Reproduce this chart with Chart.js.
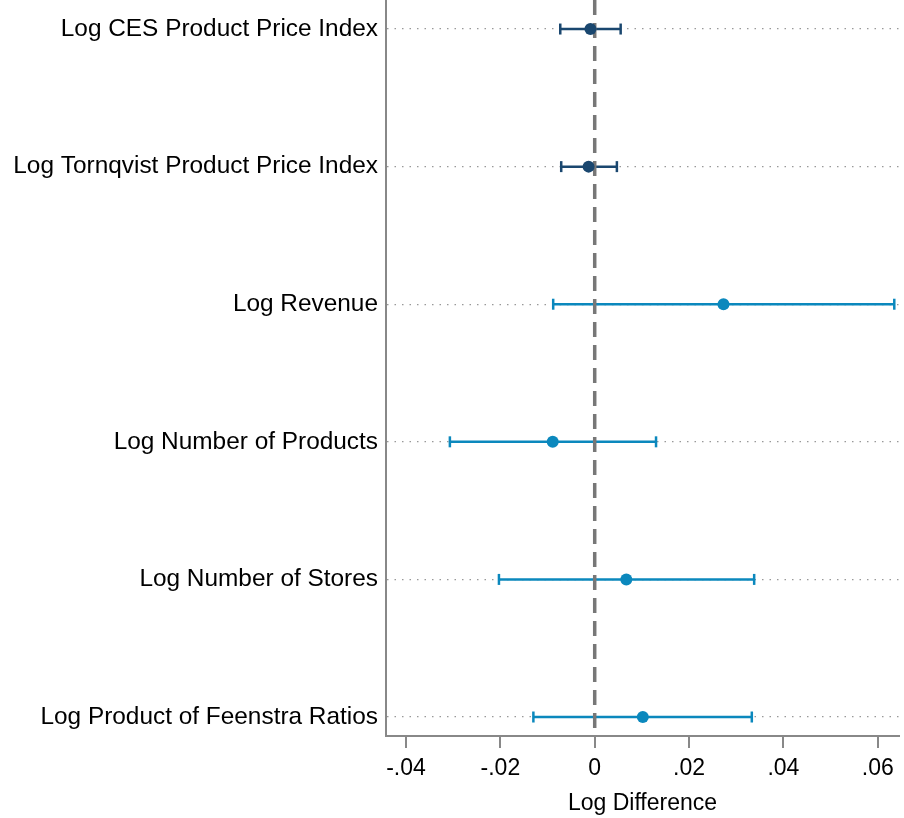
<!DOCTYPE html>
<html>
<head>
<meta charset="utf-8">
<script src="https://cdn.jsdelivr.net/npm/chart.js@4.4.1/dist/chart.umd.min.js"></script>
<style>
  html, body { margin: 0; padding: 0; background: #fff; }
</style>
</head>
<body>
<canvas id="chart" width="904" height="818"></canvas>
<script>
const outcomes = [
    'Log CES Product Price Index',
    'Log Tornqvist Product Price Index',
    'Log Revenue',
    'Log Number of Products',
    'Log Number of Stores',
    'Log Product of Feenstra Ratios'
];
const estimates = [-0.0009, -0.0013, 0.0273, -0.0089, 0.0067, 0.0102];
const lower = [-0.0073, -0.0071, -0.0088, -0.0307, -0.0203, -0.0130];
const upper = [0.0055, 0.0047, 0.0635, 0.0130, 0.0338, 0.0333];
const xTicks = [-0.04, -0.02, 0, 0.02, 0.04, 0.06];

const rows = outcomes.map((_, i) => i + 1);
const yMin = 0.789, yMax = 6.138;

const NAVY = '#1a476f';
const BLUE = '#0b88bd';
const rowColor = i => i < 2 ? NAVY : BLUE; // price indexes are dark

Chart.defaults.font.family = "'Liberation Sans', Arial, Helvetica, sans-serif";

function fmtTick(v) {
    if (Math.abs(v) < 1e-9) return '0';
    return (v < 0 ? '-' : '') + Math.abs(v).toFixed(2).replace(/^0/, '');
}

const datasets = [];

// point estimates on top
datasets.push({
    type: 'scatter',
    data: rows.map((r, i) => ({ x: estimates[i], y: r })),
    pointRadius: 6,
    pointHoverRadius: 6,
    pointBackgroundColor: rows.map((r, i) => rowColor(i)),
    pointBorderWidth: 0,
    order: 0
});

// dashed zero reference line
datasets.push({
    type: 'line',
    data: [{ x: 0, y: yMin }, { x: 0, y: yMax }],
    borderColor: '#777',
    borderWidth: 3.5,
    borderDash: [15, 8],
    pointRadius: 0,
    order: 1
});

// confidence intervals with caps
rows.forEach((r, i) => {
    datasets.push({
        type: 'line',
        data: [{ x: lower[i], y: r }, { x: upper[i], y: r }],
        borderColor: rowColor(i),
        borderWidth: 2.5,
        pointStyle: 'line',
        rotation: 90,
        pointRadius: 5.5,
        pointHoverRadius: 5.5,
        pointBorderColor: rowColor(i),
        pointBorderWidth: 2.5,
        order: 2
    });
});

new Chart(document.getElementById('chart'), {
    type: 'scatter',
    data: { datasets: datasets },
    options: {
        responsive: false,
        animation: false,
        layout: { autoPadding: false, padding: { left: 0, right: 5, top: 0, bottom: 0 } },
        plugins: {
            legend: { display: false },
            tooltip: { enabled: false }
        },
        scales: {
            x: {
                type: 'linear',
                min: -0.04424,
                max: 0.0645,
                afterBuildTicks: s => { s.ticks = xTicks.map(v => ({ value: v })); },
                afterFit: s => { s.height = 82; s.paddingLeft = 0; s.paddingRight = 0; },
                ticks: {
                    callback: v => fmtTick(v),
                    color: '#000',
                    font: { size: 23 },
                    padding: 7,
                    maxRotation: 0,
                    autoSkip: false
                },
                grid: {
                    drawOnChartArea: false,
                    color: '#888',
                    lineWidth: 2,
                    tickLength: 12
                },
                border: { color: '#888', width: 2 },
                title: {
                    display: true,
                    text: 'Log Difference',
                    color: '#000',
                    font: { size: 23 },
                    padding: { top: 0, bottom: 1 }
                }
            },
            y: {
                type: 'linear',
                reverse: true,
                min: yMin,
                max: yMax,
                afterBuildTicks: s => { s.ticks = rows.map(v => ({ value: v })); },
                afterFit: s => { s.width = 386; s.paddingTop = 0; s.paddingBottom = 0; },
                ticks: {
                    callback: v => outcomes[v - 1],
                    color: '#000',
                    font: { size: 24.4 },
                    padding: 8,
                    autoSkip: false
                },
                grid: {
                    color: '#999',
                    lineWidth: 1.3,
                    drawTicks: false
                },
                border: { color: '#888', width: 2, dash: [1.5, 6] }
            }
        }
    }
});
</script>
</body>
</html>
